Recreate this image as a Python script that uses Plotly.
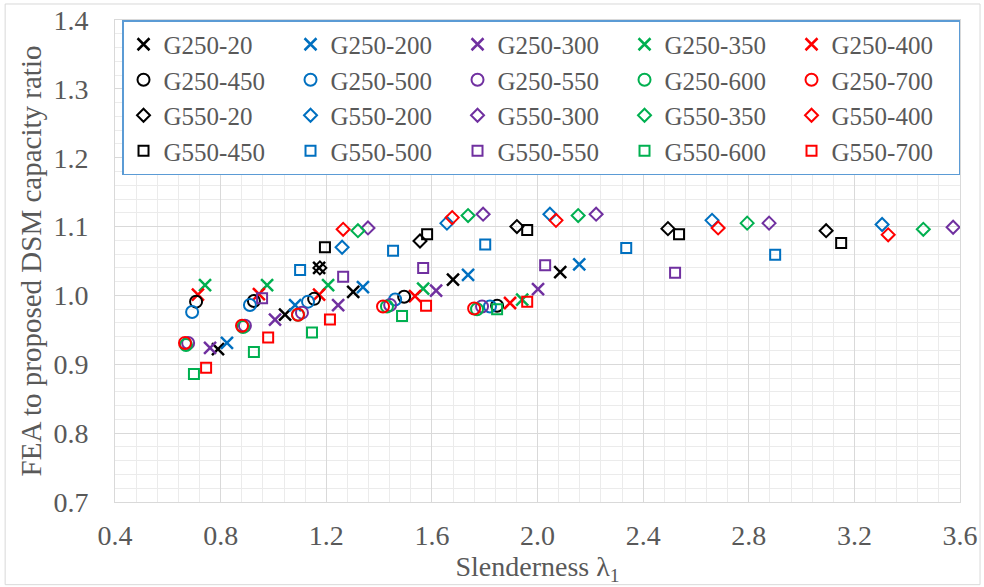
import plotly.graph_objects as go

# ---- data (slenderness, FEA/DSM ratio) ----
g250_20_x = [0.790, 1.044, 1.173, 1.302, 1.680, 2.086]
g250_20_y = [0.922, 0.972, 1.040, 1.005, 1.023, 1.034]
g250_200_x = [0.824, 1.082, 1.339, 1.737, 2.158]
g250_200_y = [0.931, 0.986, 1.012, 1.030, 1.045]
g250_300_x = [0.760, 1.006, 1.245, 1.616, 2.002]
g250_300_y = [0.924, 0.965, 0.986, 1.007, 1.009]
g250_350_x = [0.741, 0.976, 1.207, 1.567, 1.942]
g250_350_y = [1.015, 1.015, 1.015, 1.010, 0.994]
g250_400_x = [0.714, 0.945, 1.173, 1.536, 1.896]
g250_400_y = [1.001, 1.002, 1.001, 0.999, 0.989]
g250_450_x = [0.707, 0.926, 1.154, 1.495, 1.847]
g250_450_y = [0.991, 0.992, 0.995, 0.998, 0.985]
g250_500_x = [0.692, 0.911, 1.131, 1.461, 1.820]
g250_500_y = [0.976, 0.986, 0.991, 0.994, 0.984]
g250_550_x = [0.677, 0.892, 1.108, 1.442, 1.790]
g250_550_y = [0.931, 0.956, 0.975, 0.986, 0.984]
g250_600_x = [0.669, 0.885, 1.093, 1.430, 1.771]
g250_600_y = [0.928, 0.954, 0.972, 0.984, 0.980]
g250_700_x = [0.665, 0.881, 1.093, 1.415, 1.760]
g250_700_y = [0.931, 0.956, 0.972, 0.984, 0.981]
g550_20_x = [1.176, 1.555, 1.922, 2.494, 3.093]
g550_20_y = [1.040, 1.079, 1.100, 1.097, 1.094]
g550_200_x = [1.260, 1.657, 2.047, 2.661, 3.305]
g550_200_y = [1.070, 1.105, 1.118, 1.109, 1.103]
g550_300_x = [1.358, 1.794, 2.222, 2.877, 3.574]
g550_300_y = [1.098, 1.118, 1.118, 1.105, 1.099]
g550_350_x = [1.320, 1.737, 2.154, 2.794, 3.461]
g550_350_y = [1.094, 1.116, 1.116, 1.105, 1.096]
g550_400_x = [1.264, 1.677, 2.070, 2.684, 3.328]
g550_400_y = [1.096, 1.113, 1.109, 1.098, 1.088]
g550_450_x = [1.195, 1.582, 1.961, 2.536, 3.150]
g550_450_y = [1.070, 1.089, 1.095, 1.089, 1.076]
g550_500_x = [1.101, 1.453, 1.802, 2.336, 2.900]
g550_500_y = [1.037, 1.065, 1.074, 1.069, 1.059]
g550_550_x = [0.957, 1.264, 1.567, 2.029, 2.521]
g550_550_y = [0.996, 1.027, 1.040, 1.044, 1.033]
g550_600_x = [0.699, 0.926, 1.146, 1.487, 1.847]
g550_600_y = [0.886, 0.918, 0.946, 0.970, 0.980]
g550_700_x = [0.745, 0.980, 1.214, 1.578, 1.961]
g550_700_y = [0.895, 0.939, 0.965, 0.985, 0.991]

series = [
    ("G250-20", g250_20_x, g250_20_y),
    ("G250-200", g250_200_x, g250_200_y),
    ("G250-300", g250_300_x, g250_300_y),
    ("G250-350", g250_350_x, g250_350_y),
    ("G250-400", g250_400_x, g250_400_y),
    ("G250-450", g250_450_x, g250_450_y),
    ("G250-500", g250_500_x, g250_500_y),
    ("G250-550", g250_550_x, g250_550_y),
    ("G250-600", g250_600_x, g250_600_y),
    ("G250-700", g250_700_x, g250_700_y),
    ("G550-20", g550_20_x, g550_20_y),
    ("G550-200", g550_200_x, g550_200_y),
    ("G550-300", g550_300_x, g550_300_y),
    ("G550-350", g550_350_x, g550_350_y),
    ("G550-400", g550_400_x, g550_400_y),
    ("G550-450", g550_450_x, g550_450_y),
    ("G550-500", g550_500_x, g550_500_y),
    ("G550-550", g550_550_x, g550_550_y),
    ("G550-600", g550_600_x, g550_600_y),
    ("G550-700", g550_700_x, g550_700_y),
]

colors = ["#000000", "#0070C0", "#7030A0", "#00B050", "#FF0000"]
symbol_rows = [("x-thin-open", 12, 2.5), ("circle-open", 12, 2.0),
               ("diamond-open", 10, 2.0), ("square-open", 10, 2.0)]

FONT = "Liberation Serif, Times New Roman, serif"
TXT = "#595959"

fig = go.Figure()
for i, (name, xs, ys) in enumerate(series):
    sym, size, lw = symbol_rows[i // 5]
    col = colors[i % 5]
    fig.add_trace(go.Scatter(
        x=xs, y=ys, mode="markers", name=name,
        marker=dict(symbol=sym, size=size, color=col,
                    line=dict(color=col, width=lw)),
    ))

fig.update_layout(
    width=984, height=587,
    margin=dict(l=115, r=24, t=20, b=85),
    paper_bgcolor="white", plot_bgcolor="white",
    font=dict(family=FONT, color=TXT, size=28),
    showlegend=True,
    legend=dict(
        orientation="h", x=0.0083, y=1.0, xanchor="left", yanchor="top",
        font=dict(family=FONT, size=25, color=TXT),
        bgcolor="white", bordercolor="#5B9BD5", borderwidth=1.5,
        entrywidth=122, itemwidth=30, tracegroupgap=0,
    ),
    xaxis=dict(
        range=[0.4, 3.6], dtick=0.4, tick0=0.4, tickformat=".1f",
        showgrid=True, gridcolor="#D9D9D9", gridwidth=1,
        minor=dict(tick0=0.4, dtick=0.08, showgrid=True, gridcolor="#EBEBEB", gridwidth=1),
        showline=True, linecolor="#D9D9D9", mirror=True, zeroline=False,
        ticks="", ticklabelstandoff=8,
        tickfont=dict(family=FONT, size=28, color=TXT),
        title=dict(text="Slenderness λ<sub>1</sub>", standoff=6,
                   font=dict(family=FONT, size=28, color=TXT)),
        automargin="bottom",
    ),
    yaxis=dict(
        range=[0.7, 1.4], dtick=0.1, tick0=0.7, tickformat=".1f",
        showgrid=True, gridcolor="#D9D9D9", gridwidth=1,
        minor=dict(tick0=0.7, dtick=0.02, showgrid=True, gridcolor="#EBEBEB", gridwidth=1),
        showline=True, linecolor="#D9D9D9", mirror=True, zeroline=False,
        ticks="", ticklabelstandoff=20,
        tickfont=dict(family=FONT, size=28, color=TXT),
        title=dict(text="FEA to proposed DSM capacity ratio", standoff=3,
                   font=dict(family=FONT, size=29, color=TXT)),
        automargin="left",
    ),
    shapes=[dict(type="rect", xref="paper", yref="paper",
                 x0=-0.130, x1=1.0237, y0=-0.1715, y1=1.0332,
                 line=dict(color="#D9D9D9", width=1), layer="below")],
)

fig.write_html("out.html")
